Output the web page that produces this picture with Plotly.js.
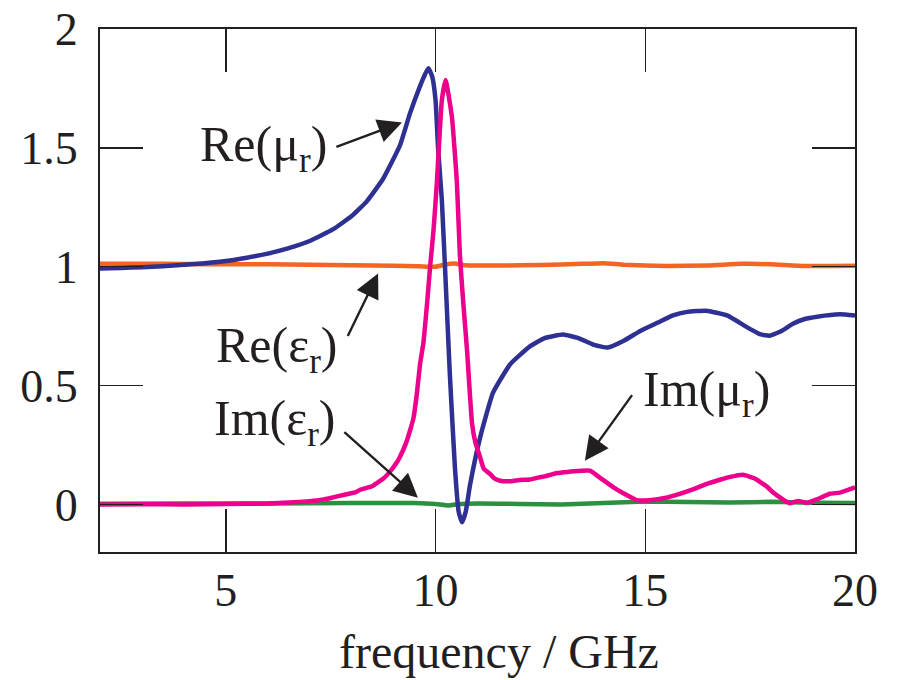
<!DOCTYPE html>
<html>
<head>
<meta charset="utf-8">
<script src="https://cdn.plot.ly/plotly-3.0.1.min.js"></script>
<style>
  html, body { margin: 0; padding: 0; background: #ffffff; }
  #chart { width: 897px; height: 680px; }
</style>
</head>
<body>
<div id="chart"></div>
<script>
// Relative permeability / permittivity spectra (frequency in GHz)

// Re(mu_r)
const reMuFreq = [2.0, 2.5, 3.0, 3.5, 4.0, 4.5, 5.0, 5.5, 6.0, 6.5, 7.0, 7.56, 8.0, 8.36, 8.75, 9.15, 9.39, 9.63, 9.75, 9.83, 9.92, 10.0, 10.06, 10.15, 10.23, 10.34, 10.46, 10.55, 10.63, 10.72, 10.82, 11.06, 11.37, 11.78, 12.25, 12.6, 13.04, 13.4, 13.8, 14.1, 14.5, 14.88, 15.3, 15.66, 16.0, 16.45, 16.95, 17.43, 17.75, 17.97, 18.25, 18.52, 18.8, 19.1, 19.64, 20.0];
const reMu     = [0.993, 0.995, 0.998, 1.002, 1.008, 1.015, 1.024, 1.038, 1.055, 1.078, 1.108, 1.158, 1.213, 1.275, 1.37, 1.51, 1.645, 1.76, 1.81, 1.835, 1.80, 1.70, 1.50, 1.28, 0.98, 0.55, 0.16, -0.03, -0.075, -0.03, 0.08, 0.28, 0.47, 0.59, 0.665, 0.70, 0.715, 0.70, 0.67, 0.66, 0.69, 0.73, 0.765, 0.795, 0.81, 0.815, 0.795, 0.745, 0.715, 0.71, 0.73, 0.76, 0.78, 0.79, 0.80, 0.795];

// Im(mu_r)
const imMuFreq = [2.0, 3.0, 4.0, 5.0, 6.0, 6.5, 7.0, 7.3, 7.56, 7.8, 7.96, 8.1, 8.2, 8.36, 8.5, 8.6, 8.75, 8.9, 9.05, 9.15, 9.3, 9.39, 9.47, 9.55, 9.63, 9.71, 9.8, 9.87, 9.95, 10.03, 10.15, 10.24, 10.39, 10.51, 10.58, 10.66, 10.75, 10.87, 10.95, 11.06, 11.15, 11.3, 11.4, 11.54, 11.8, 12.0, 12.25, 12.42, 12.6, 12.9, 13.04, 13.3, 13.68, 13.9, 14.24, 14.5, 14.8, 15.1, 15.43, 15.66, 16.0, 16.23, 16.47, 16.8, 17.0, 17.33, 17.6, 17.9, 18.05, 18.25, 18.45, 18.65, 18.85, 19.1, 19.4, 19.64, 20.0];
const imMu     = [0.000, 0.001, 0.000, 0.002, 0.004, 0.008, 0.014, 0.020, 0.030, 0.040, 0.046, 0.052, 0.062, 0.070, 0.078, 0.090, 0.108, 0.135, 0.170, 0.200, 0.260, 0.310, 0.360, 0.460, 0.590, 0.680, 0.850, 1.000, 1.150, 1.350, 1.700, 1.785, 1.630, 1.350, 1.050, 0.850, 0.650, 0.340, 0.260, 0.200, 0.150, 0.128, 0.110, 0.100, 0.098, 0.103, 0.105, 0.112, 0.118, 0.132, 0.135, 0.140, 0.142, 0.115, 0.072, 0.045, 0.018, 0.018, 0.026, 0.036, 0.055, 0.070, 0.087, 0.105, 0.115, 0.125, 0.110, 0.075, 0.050, 0.025, 0.005, 0.015, 0.006, 0.022, 0.045, 0.050, 0.072];

// Re(eps_r)
const reEpsFreq = [2.0, 3.0, 4.0, 5.0, 6.0, 7.0, 8.0, 9.0, 9.6, 10.0, 10.2, 10.45, 10.7, 11.5, 12.5, 13.5, 14.0, 14.5, 15.5, 16.5, 17.3, 18.0, 18.8, 20.0];
const reEps     = [1.012, 1.013, 1.011, 1.010, 1.010, 1.008, 1.006, 1.004, 1.002, 1.000, 1.008, 1.014, 1.006, 1.005, 1.007, 1.012, 1.015, 1.008, 1.003, 1.005, 1.012, 1.010, 1.003, 1.004];

// Im(eps_r)
const imEpsFreq = [2.0, 4.0, 6.0, 8.0, 9.5, 10.0, 10.3, 10.6, 11.0, 12.0, 13.0, 14.0, 15.0, 16.0, 17.0, 18.0, 19.0, 20.0];
const imEps     = [0.003, 0.004, 0.004, 0.006, 0.006, 0.002, -0.004, 0.002, 0.004, 0.002, 0.000, 0.006, 0.012, 0.010, 0.008, 0.011, 0.007, 0.006];

// Axis ticks
const xTickVals = [5, 10, 15, 20];
const xTickText = ['5', '10', '15', '20'];
const yTickVals = [0, 0.5, 1, 1.5, 2];
const yTickText = ['0', '0.5', '1', '1.5', '2'];

const ink = '#231f20';
const serif = '"Liberation Serif", "Times New Roman", Times, serif';

function line(x, y, color) {
  return { x: x, y: y, type: 'scatter', mode: 'lines', hoverinfo: 'skip',
           line: { color: color, width: 4.5, shape: 'spline', smoothing: 0.4 } };
}

const traces = [
  line(reEpsFreq, reEps, '#f26522'),
  line(imEpsFreq, imEps, '#2b9040'),
  line(reMuFreq, reMu, '#2e3192'),
  line(imMuFreq, imMu, '#ec008c')
];

function label(text, x, y) {
  return { text: text, x: x, y: y, xref: 'x', yref: 'y', showarrow: false,
           xanchor: 'center', yanchor: 'middle',
           font: { family: serif, size: 50, color: ink } };
}
function arrow(x0, y0, x1, y1) {
  return { text: '', x: x1, y: y1, ax: x0, ay: y0, xref: 'x', yref: 'y',
           axref: 'x', ayref: 'y', showarrow: true, arrowhead: 2,
           arrowsize: 2, arrowwidth: 2.4, arrowcolor: ink, standoff: 0, startstandoff: 0 };
}

const annotations = [
  label('Re(μ<sub>r</sub>)', 5.89, 1.50),
  arrow(7.60, 1.502, 9.20, 1.607),
  label('Re(ε<sub>r</sub>)', 6.22, 0.656),
  arrow(7.89, 0.702, 8.63, 0.971),
  label('Im(ε<sub>r</sub>)', 6.17, 0.348),
  arrow(7.79, 0.310, 9.58, 0.028),
  label('Im(μ<sub>r</sub>)', 16.45, 0.470),
  arrow(14.71, 0.466, 13.56, 0.184),
  { text: 'frequency / GHz', xref: 'paper', yref: 'paper', x: 0.528, y: -0.19,
    xanchor: 'center', yanchor: 'middle', showarrow: false,
    font: { family: serif, size: 48, color: ink } }
];

const axisCommon = {
  ticks: 'inside', ticklen: 43, tickwidth: 1.5, tickcolor: ink,
  showline: true, linewidth: 2, linecolor: ink, mirror: 'ticks',
  showgrid: false, zeroline: false,
  tickfont: { family: serif, size: 46, color: ink }
};

const layout = {
  width: 897, height: 680,
  margin: { l: 100, r: 42, t: 29, b: 128 },
  paper_bgcolor: '#ffffff', plot_bgcolor: '#ffffff',
  showlegend: false,
  xaxis: Object.assign({}, axisCommon, {
    range: [2, 20], tickmode: 'array', tickvals: xTickVals, ticktext: xTickText,
    ticklabelstandoff: -3
  }),
  yaxis: Object.assign({}, axisCommon, {
    range: [-0.2, 2], tickmode: 'array', tickvals: yTickVals, ticktext: yTickText,
    ticklabelstandoff: 11
  }),
  annotations: annotations
};

Plotly.newPlot('chart', traces, layout, { displayModeBar: false, staticPlot: true });
</script>
</body>
</html>
